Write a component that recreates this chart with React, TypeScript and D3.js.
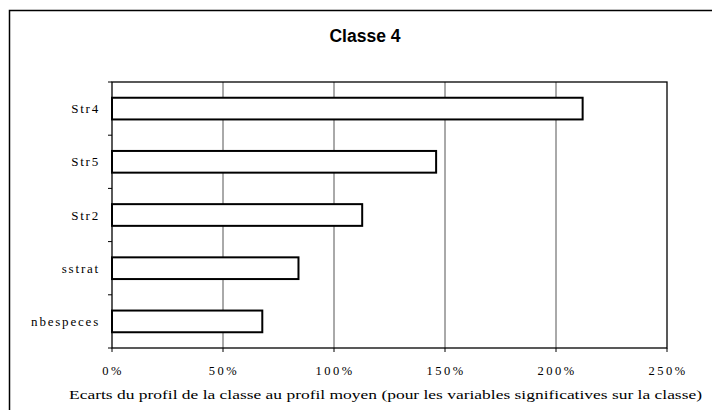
import React from "react";
import * as d3 from "d3";

// Deviation of the class profile from the mean profile, per significant variable
const categories: string[] = ["Str4", "Str5", "Str2", "sstrat", "nbespeces"];
const deviations: number[] = [2.12, 1.46, 1.127, 0.84, 0.677];
const xTicks: number[] = [0, 0.5, 1, 1.5, 2, 2.5];
const xTickLabels: string[] = ["0%", "50%", "100%", "150%", "200%", "250%"];

const W = 712;
const H = 410;
const plot = { left: 112, right: 667, top: 82, bottom: 348 };

const serif = "'Liberation Serif', 'DejaVu Serif', serif";

export default function App() {
  const x = d3.scaleLinear().domain([0, 2.5]).range([plot.left, plot.right]);
  const y = d3
    .scaleBand<string>()
    .domain(categories)
    .range([plot.top, plot.bottom])
    .paddingInner(0.592)
    .paddingOuter(0.296);
  const step = (plot.bottom - plot.top) / categories.length;
  const boundaries = d3.range(categories.length + 1).map((k) => plot.top + k * step);

  return (
    <svg
      width={W}
      height={H}
      style={{ position: "absolute", left: 0, top: 0, background: "#fff" }}
    >
      {/* chart frame */}
      <rect x={9.5} y={10.5} width={740} height={440} fill="#fff" stroke="#000" strokeWidth={1.5} />

      <text
        x={365}
        y={42}
        textAnchor="middle"
        fontFamily="'Liberation Sans', Arial, sans-serif"
        fontWeight="bold"
        fontSize={17.5}
      >
        Classe 4
      </text>

      {/* vertical gridlines */}
      {xTicks.slice(1, -1).map((t) => (
        <line key={t} x1={x(t)} x2={x(t)} y1={plot.top} y2={plot.bottom} stroke="#555" strokeWidth={1} />
      ))}

      {/* plot border */}
      <rect
        x={plot.left}
        y={plot.top}
        width={plot.right - plot.left}
        height={plot.bottom - plot.top}
        fill="none"
        stroke="#000"
        strokeWidth={1.3}
      />

      {/* y axis ticks at category boundaries */}
      {boundaries.map((b, i) => (
        <line key={i} x1={plot.left - 4} x2={plot.left} y1={b} y2={b} stroke="#000" strokeWidth={1} />
      ))}
      {/* x axis ticks */}
      {xTicks.map((t) => (
        <line key={t} x1={x(t)} x2={x(t)} y1={plot.bottom} y2={plot.bottom + 4} stroke="#000" strokeWidth={1} />
      ))}

      {/* bars */}
      {categories.map((c, i) => (
        <rect
          key={c}
          x={x(0)}
          y={y(c)!}
          width={x(deviations[i]) - x(0)}
          height={y.bandwidth()}
          fill="#fff"
          stroke="#000"
          strokeWidth={2}
        />
      ))}

      {/* category labels */}
      {categories.map((c) => (
        <text
          key={c}
          x={plot.left - 12}
          y={y(c)! + y.bandwidth() / 2 + 4.5}
          textAnchor="end"
          fontFamily={serif}
          fontSize={13}
          letterSpacing={1.8}
        >
          {c}
        </text>
      ))}

      {/* x tick labels */}
      {xTicks.map((t, i) => (
        <text
          key={t}
          x={x(t) + 1}
          y={375}
          textAnchor="middle"
          fontFamily={serif}
          fontSize={12.5}
          letterSpacing={2.5}
        >
          {xTickLabels[i]}
        </text>
      ))}

      <text
        x={69}
        y={399}
        fontFamily={serif}
        fontSize={12.5}
        textLength={633}
        lengthAdjust="spacingAndGlyphs"
      >
        Ecarts du profil de la classe au profil moyen (pour les variables significatives sur la classe)
      </text>
    </svg>
  );
}
